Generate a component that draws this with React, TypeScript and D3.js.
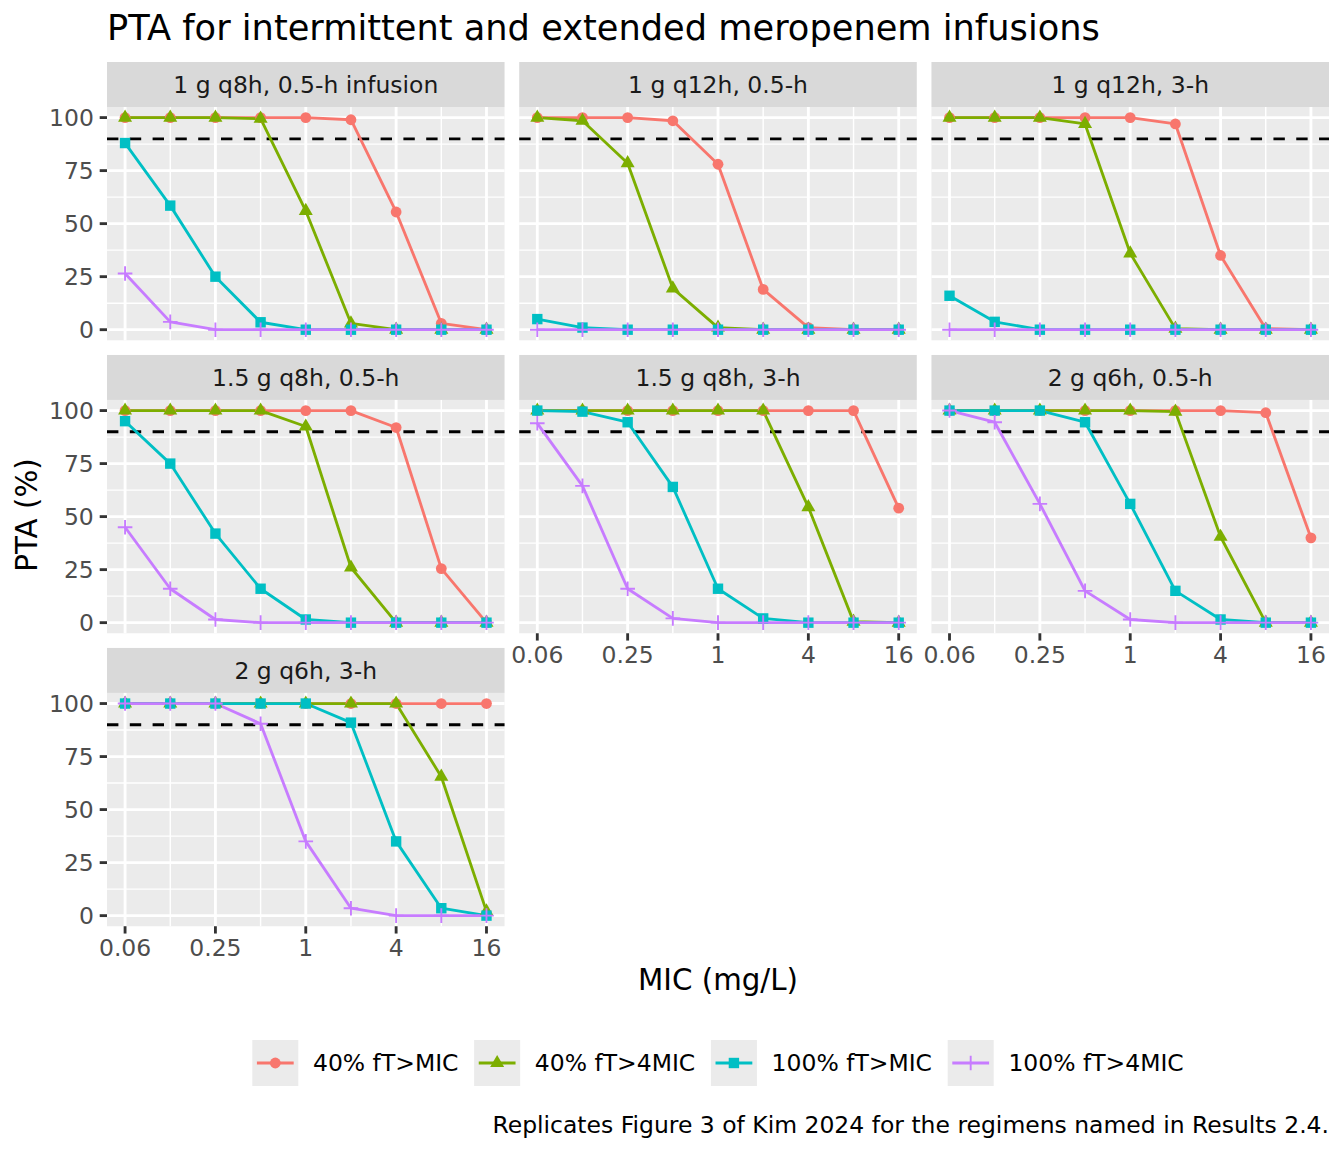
import { useMemo } from 'react';
import * as d3 from 'd3';

// MIC grid (mg/L) shared by every regimen
const MIC = [0.0625, 0.125, 0.25, 0.5, 1, 2, 4, 8, 16];
const X_BREAKS = [0.0625, 0.25, 1, 4, 16];
const X_LABELS = ['0.06', '0.25', '1', '4', '16'];
const Y_BREAKS = [0, 25, 50, 75, 100];
const TARGET_LINE = 90;

const TARGETS = ['40% fT>MIC', '40% fT>4MIC', '100% fT>MIC', '100% fT>4MIC'];
const COLORS = ['#F8766D', '#7CAE00', '#00BFC4', '#C77CFF'];
const SHAPES = ['circle', 'triangle', 'square', 'plus'];

const REGIMENS = [
  '1 g q8h, 0.5-h infusion',
  '1 g q12h, 0.5-h',
  '1 g q12h, 3-h',
  '1.5 g q8h, 0.5-h',
  '1.5 g q8h, 3-h',
  '2 g q6h, 0.5-h',
  '2 g q6h, 3-h',
];

// PTA (%) per regimen, one row per target (same order as TARGETS)
const pta1gQ8h05 = [
  [100, 100, 100, 100, 100, 99, 55.5, 3, 0],
  [100, 100, 100, 99.5, 56, 3, 0, 0, 0],
  [88, 58.5, 25, 3.5, 0, 0, 0, 0, 0],
  [26.5, 3.7, 0, 0, 0, 0, 0, 0, 0],
];
const pta1gQ12h05 = [
  [100, 100, 100, 98.5, 78, 19, 1, 0, 0],
  [100, 98.5, 78.5, 19.5, 1, 0, 0, 0, 0],
  [5, 1, 0, 0, 0, 0, 0, 0, 0],
  [0, 0, 0, 0, 0, 0, 0, 0, 0],
];
const pta1gQ12h3 = [
  [100, 100, 100, 100, 100, 97, 35, 0.5, 0],
  [100, 100, 100, 97, 36, 0.5, 0, 0, 0],
  [16, 3.7, 0, 0, 0, 0, 0, 0, 0],
  [0, 0, 0, 0, 0, 0, 0, 0, 0],
];
const pta15gQ8h05 = [
  [100, 100, 100, 100, 100, 100, 92, 25.5, 0],
  [100, 100, 100, 100, 92.5, 26, 0, 0, 0],
  [95, 75, 42, 16, 1.5, 0, 0, 0, 0],
  [45, 16, 1.5, 0, 0, 0, 0, 0, 0],
];
const pta15gQ8h3 = [
  [100, 100, 100, 100, 100, 100, 100, 100, 54],
  [100, 100, 100, 100, 100, 100, 54.5, 0.5, 0],
  [100, 99.5, 94.5, 64, 16, 2, 0, 0, 0],
  [94, 64.5, 16, 2, 0, 0, 0, 0, 0],
];
const pta2gQ6h05 = [
  [100, 100, 100, 100, 100, 100, 100, 99, 40],
  [100, 100, 100, 100, 100, 99.5, 40.5, 0, 0],
  [100, 100, 100, 94.5, 56, 15, 1.5, 0, 0],
  [100, 94.5, 56, 15, 1.5, 0, 0, 0, 0],
];
const pta2gQ6h3 = [
  [100, 100, 100, 100, 100, 100, 100, 100, 100],
  [100, 100, 100, 100, 100, 100, 100, 65.5, 2],
  [100, 100, 100, 100, 100, 91, 35, 3.5, 0],
  [100, 100, 100, 90.5, 35, 3.5, 0, 0, 0],
];
const PTA = [pta1gQ8h05, pta1gQ12h05, pta1gQ12h3, pta15gQ8h05, pta15gQ8h3, pta2gQ6h05, pta2gQ6h3];

const W = 1344;
const H = 1152;
const FONT = '"DejaVu Sans", Verdana, sans-serif';
const FS_TITLE = 35.2;
const FS_AXIS_TITLE = 29.33;
const FS_TEXT = 23.47;

const PLOT_LEFT = 107;
const PLOT_RIGHT = 1329;
const PLOT_TOP = 62;
const SPACING = 14.67;
const STRIP_H = 45;
const PANEL_H = 233.3;
const NCOL = 3;
const PANEL_W = (PLOT_RIGHT - PLOT_LEFT - SPACING * (NCOL - 1)) / NCOL;
const TICK = 7.3;
const GRID_MAJOR = 2.84;
const GRID_MINOR = 1.42;
const LINE_W = 2.84;

const Marker = ({ shape, x, y, color }: { shape: string; x: number; y: number; color: string }) => {
  if (shape === 'circle') return <circle cx={x} cy={y} r={5.4} fill={color} />;
  if (shape === 'square') return <rect x={x - 5.2} y={y - 5.2} width={10.4} height={10.4} fill={color} />;
  if (shape === 'triangle')
    return <path d={`M${x},${y - 8.1}L${x + 7},${y + 4.05}L${x - 7},${y + 4.05}Z`} fill={color} />;
  return (
    <path
      d={`M${x - 7.3},${y}H${x + 7.3}M${x},${y - 7.3}V${y + 7.3}`}
      stroke={color}
      strokeWidth={1.9}
      fill="none"
    />
  );
};

export default function App() {
  const x = d3.scaleLog().base(2).domain([2 ** -4.4, 2 ** 4.4]).range([0, PANEL_W]);
  const y = d3.scaleLinear().domain([-5, 105]).range([PANEL_H, 0]);

  // minor breaks sit halfway between majors in transformed space
  const xMinor = d3.pairs(X_BREAKS).map(([a, b]) => Math.sqrt(a * b));
  const yMinor = d3.pairs(Y_BREAKS).map(([a, b]) => (a + b) / 2);

  const line = d3
    .line<number>()
    .x((_, i) => x(MIC[i]))
    .y((d) => y(d));

  // legend widths from the real font
  const labelWidths = useMemo(() => {
    const ctx = document.createElement('canvas').getContext('2d')!;
    ctx.font = `${FS_TEXT}px "DejaVu Sans"`;
    return TARGETS.map((t) => ctx.measureText(t).width);
  }, []);
  const KEY = 46;
  const KEY_GAP = 14.7;
  const ITEM_GAP = 15.7;
  const legendW = d3.sum(labelWidths) + TARGETS.length * (KEY + KEY_GAP) + (TARGETS.length - 1) * ITEM_GAP;
  const legendX0 = (PLOT_LEFT + PLOT_RIGHT) / 2 - legendW / 2;
  let acc = legendX0;
  const legendX = labelWidths.map((w) => {
    const p = acc;
    acc += KEY + KEY_GAP + w + ITEM_GAP;
    return p;
  });
  const legendY = 1040;

  const nRows = Math.ceil(REGIMENS.length / NCOL);

  return (
    <svg
      width={W}
      height={H}
      style={{ position: 'absolute', left: 0, top: 0, background: '#fff', fontFamily: FONT }}
    >
      <rect width={W} height={H} fill="#fff" />
      <text x={PLOT_LEFT} y={40} fontSize={FS_TITLE} fill="#000">
        PTA for intermittent and extended meropenem infusions
      </text>

      {REGIMENS.map((name, k) => {
        const col = k % NCOL;
        const row = Math.floor(k / NCOL);
        const left = PLOT_LEFT + col * (PANEL_W + SPACING);
        const stripTop = PLOT_TOP + row * (STRIP_H + PANEL_H + SPACING);
        const top = stripTop + STRIP_H;
        const showX = k + NCOL >= REGIMENS.length || row === nRows - 1;
        const showY = col === 0;
        return (
          <g key={name}>
            <rect x={left} y={stripTop} width={PANEL_W} height={STRIP_H} fill="#D9D9D9" />
            <text
              x={left + PANEL_W / 2}
              y={stripTop + STRIP_H / 2 + FS_TEXT * 0.36}
              fontSize={FS_TEXT}
              fill="#1A1A1A"
              textAnchor="middle"
            >
              {name}
            </text>
            <g transform={`translate(${left},${top})`}>
              <rect width={PANEL_W} height={PANEL_H} fill="#EBEBEB" />
              {yMinor.map((v) => (
                <line key={`ym${v}`} x1={0} x2={PANEL_W} y1={y(v)} y2={y(v)} stroke="#fff" strokeWidth={GRID_MINOR} />
              ))}
              {xMinor.map((v) => (
                <line key={`xm${v}`} x1={x(v)} x2={x(v)} y1={0} y2={PANEL_H} stroke="#fff" strokeWidth={GRID_MINOR} />
              ))}
              {Y_BREAKS.map((v) => (
                <line key={`y${v}`} x1={0} x2={PANEL_W} y1={y(v)} y2={y(v)} stroke="#fff" strokeWidth={GRID_MAJOR} />
              ))}
              {X_BREAKS.map((v) => (
                <line key={`x${v}`} x1={x(v)} x2={x(v)} y1={0} y2={PANEL_H} stroke="#fff" strokeWidth={GRID_MAJOR} />
              ))}
              <line
                x1={0}
                x2={PANEL_W}
                y1={y(TARGET_LINE)}
                y2={y(TARGET_LINE)}
                stroke="#000"
                strokeWidth={LINE_W}
                strokeDasharray="11.4 11.4"
              />
              {PTA[k].map((vals, s) => (
                <path key={`l${s}`} d={line(vals)!} fill="none" stroke={COLORS[s]} strokeWidth={LINE_W} strokeLinejoin="round" />
              ))}
              {PTA[k].map((vals, s) => (
                <g key={`p${s}`}>
                  {vals.map((v, i) => (
                    <Marker key={i} shape={SHAPES[s]} x={x(MIC[i])} y={y(v)} color={COLORS[s]} />
                  ))}
                </g>
              ))}
              {showY &&
                Y_BREAKS.map((v) => (
                  <g key={`yt${v}`}>
                    <line x1={-TICK} x2={0} y1={y(v)} y2={y(v)} stroke="#333" strokeWidth={GRID_MAJOR} />
                    <text
                      x={-TICK - 5.9}
                      y={y(v) + FS_TEXT * 0.36}
                      fontSize={FS_TEXT}
                      fill="#4D4D4D"
                      textAnchor="end"
                    >
                      {v}
                    </text>
                  </g>
                ))}
              {showX &&
                X_BREAKS.map((v, i) => (
                  <g key={`xt${v}`}>
                    <line x1={x(v)} x2={x(v)} y1={PANEL_H} y2={PANEL_H + TICK} stroke="#333" strokeWidth={GRID_MAJOR} />
                    <text x={x(v)} y={PANEL_H + 30} fontSize={FS_TEXT} fill="#4D4D4D" textAnchor="middle">
                      {X_LABELS[i]}
                    </text>
                  </g>
                ))}
            </g>
          </g>
        );
      })}

      <text x={(PLOT_LEFT + PLOT_RIGHT) / 2} y={990} fontSize={FS_AXIS_TITLE} textAnchor="middle" fill="#000">
        MIC (mg/L)
      </text>
      <text
        transform={`translate(37,515) rotate(-90)`}
        fontSize={FS_AXIS_TITLE}
        textAnchor="middle"
        fill="#000"
      >
        PTA (%)
      </text>

      {TARGETS.map((t, s) => {
        const kx = legendX[s];
        const cy = legendY + KEY / 2;
        return (
          <g key={t}>
            <rect x={kx} y={legendY} width={KEY} height={KEY} fill="#EBEBEB" />
            <line x1={kx + 4.6} x2={kx + KEY - 4.6} y1={cy} y2={cy} stroke={COLORS[s]} strokeWidth={LINE_W} />
            <Marker shape={SHAPES[s]} x={kx + KEY / 2} y={cy} color={COLORS[s]} />
            <text x={kx + KEY + KEY_GAP} y={cy + FS_TEXT * 0.36} fontSize={FS_TEXT} fill="#000">
              {t}
            </text>
          </g>
        );
      })}

      <text x={PLOT_RIGHT} y={1133} fontSize={FS_TEXT} textAnchor="end" fill="#000">
        Replicates Figure 3 of Kim 2024 for the regimens named in Results 2.4.
      </text>
    </svg>
  );
}
